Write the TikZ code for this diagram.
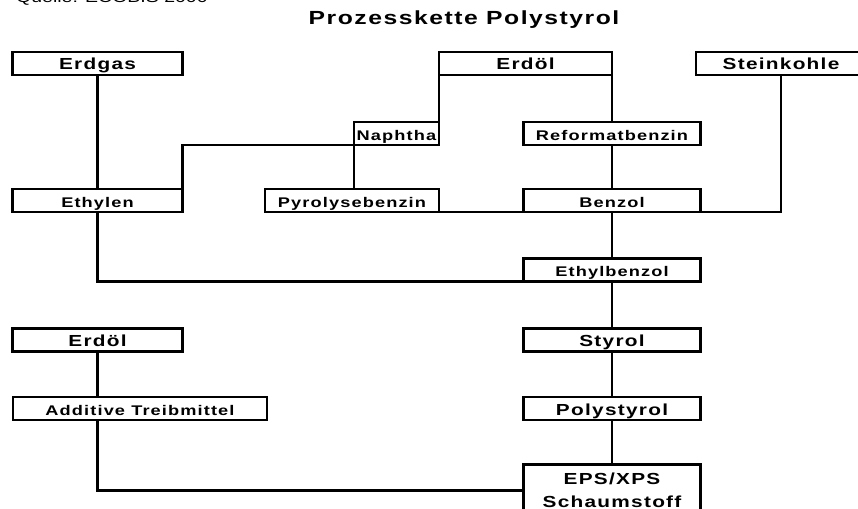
\documentclass[tikz,border=0pt]{standalone}
\usepackage{fontspec}
\newfontfamily\labfont[FakeStretch=1.3,LetterSpace=8]{Liberation Sans}
\newfontfamily\srcfont[FakeStretch=1.3]{Liberation Sans}
\tikzset{
  stufe/.style={draw, line width=2.8pt, inner sep=0pt, outer sep=0pt, minimum height=23pt,
    text height=13pt, text depth=0pt, font=\labfont\bfseries\fontsize{16}{19}\selectfont},
  klein/.style={stufe, font=\labfont\bfseries\fontsize{14}{17}\selectfont},
  verb/.style={line width=2.8pt}
}
\begin{document}
\begin{tikzpicture}[x=1pt,y=-1pt]
\useasboundingbox (0,0) rectangle (858,508);
\clip (0,0) rectangle (858,508);
\node[anchor=base west, inner sep=0pt, font=\srcfont\fontsize{15}{18}\selectfont] (quelle) at (16,3) {Quelle: ECOBIS 2000};
\node[anchor=base, inner sep=0pt, font=\labfont\bfseries\fontsize{19}{22}\selectfont] (titel) at (464,25) {Prozesskette Polystyrol};

\node[stufe, minimum width=170pt] (erdgas) at (97.5,63.5) {Erdgas};
\node[stufe, minimum width=173pt] (erdoel) at (525.5,63.5) {Erdöl};
\node[stufe, minimum width=170pt] (steinkohle) at (781,63.5) {Steinkohle};
\node[klein, minimum width=85pt] (naphtha) at (396.5,133.5) {Naphtha};
\node[klein, minimum width=177pt] (reformat) at (612,133.5) {Reformatbenzin};
\node[klein, minimum width=170pt] (ethylen) at (97.5,200.5) {Ethylen};
\node[klein, minimum width=174pt] (pyrolyse) at (352,200.5) {Pyrolysebenzin};
\node[klein, minimum width=177pt] (benzol) at (612,200.5) {Benzol};
\node[klein, minimum width=177pt] (ethylbenzol) at (612,270) {Ethylbenzol};
\node[stufe, minimum width=170pt] (erdoelzwei) at (97.5,340) {Erdöl};
\node[stufe, minimum width=177pt] (styrol) at (612,340) {Styrol};
\node[klein, minimum width=254pt] (additive) at (140,408.5) {Additive Treibmittel};
\node[stufe, minimum width=177pt] (polystyrol) at (612,408.5) {Polystyrol};
\node[stufe, minimum width=177pt, minimum height=52pt, align=center, text height=33pt,
  font=\labfont\bfseries\fontsize{16}{23}\selectfont] (eps) at (612,490.5) {EPS/XPS\\Schaumstoff};

\draw[verb] (erdgas) -- (ethylen);
\draw[verb] (erdoel.south west) -- (naphtha.north east);
\draw[verb] (erdoel.south east) -- (reformat.north);
\foreach \a/\b in {reformat/benzol, benzol/ethylbenzol, ethylbenzol/styrol, styrol/polystyrol, polystyrol/eps}
  \draw[verb] (\a) -- (\b);
\draw[verb] (steinkohle.south) |- (benzol.south east);
\draw[verb] (naphtha.south west) -- (naphtha.south west |- pyrolyse.north);
\draw[verb] (naphtha.south west) -| (ethylen.north east);
\draw[verb] (pyrolyse.south east) -- (benzol.south west);
\draw[verb] (ethylen.south) |- (ethylbenzol.south west);
\draw[verb] (erdoelzwei) -- (erdoelzwei |- additive.north);
\draw[verb] (erdoelzwei.south |- additive.south) |- (eps.west);
\end{tikzpicture}
\end{document}
